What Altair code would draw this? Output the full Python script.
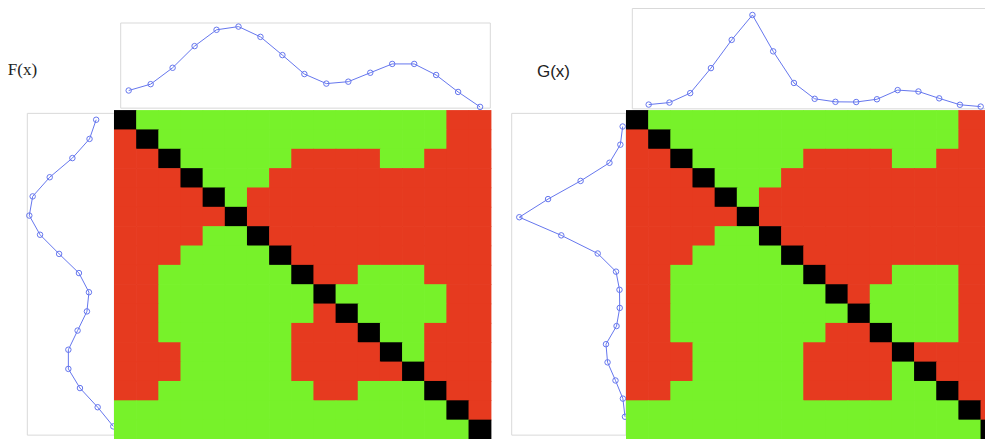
import altair as alt
import pandas as pd

# ---------------- data ----------------
idx = list(range(17))

F_values = [0.204, 0.283, 0.487, 0.757, 0.960, 1.000, 0.872, 0.645, 0.409,
            0.290, 0.314, 0.425, 0.535, 0.535, 0.397, 0.186, 0.000]

G_values = [0.022, 0.044, 0.147, 0.420, 0.728, 1.000, 0.603, 0.258, 0.085,
            0.052, 0.050, 0.080, 0.180, 0.165, 0.090, 0.020, 0.000]

# B = diagonal (black), G = green, R = red
F_matrix = [
    "BGGGGGGGGGGGGGGRR",
    "RBGGGGGGGGGGGGGRR",
    "RRBGGGGGRRRRGGRRR",
    "RRRBGGGRRRRRRRRRR",
    "RRRRBGRRRRRRRRRRR",
    "RRRRRBRRRRRRRRRRR",
    "RRRRGGBRRRRRRRRRR",
    "RRRGGGGBRRRRRRRRR",
    "RRGGGGGGBRRGGGRRR",
    "RRGGGGGGGBGGGGGRR",
    "RRGGGGGGGRBGGGGRR",
    "RRGGGGGGRRRBGGRRR",
    "RRRGGGGGRRRRBGRRR",
    "RRRGGGGGRRRRRBRRR",
    "RRGGGGGGGRRGGGBRR",
    "GGGGGGGGGGGGGGGBR",
    "GGGGGGGGGGGGGGGGB",
]

G_matrix = [
    "BGGGGGGGGGGGGGGRR",
    "RBGGGGGGGGGGGGGRR",
    "RRBGGGGGRRRRGGRRR",
    "RRRBGGGRRRRRRRRRR",
    "RRRRBGRRRRRRRRRRR",
    "RRRRRBRRRRRRRRRRR",
    "RRRRGGBRRRRRRRRRR",
    "RRRGGGGBRRRRRRRRR",
    "RRGGGGGGBRRRGGGRR",
    "RRGGGGGGGBRGGGGRR",
    "RRGGGGGGGGBGGGGRR",
    "RRGGGGGGGRRBGGGRR",
    "RRRGGGGGRRRRBRRRR",
    "RRRGGGGGRRRRGBRRR",
    "RRGGGGGGRRRRGGBRR",
    "GGGGGGGGGGGGGGGBR",
    "GGGGGGGGGGGGGGGGB",
]

labels = ["F(x)", "G(x)"]
cell_classes = ["B", "G", "R"]
cell_colors = ["#000000", "#77F22A", "#E63A1F"]
LINE = "#6677EE"
BOX = "#D9D9D9"

# page-layout helpers (positions only)
W, H = 977, 431
KY = (H - 0.5) / 445.0


def px(v):
    return v - 8.0


def py(v):
    return 0.5 + (v - 2.3) * KY


def qscale(domain, rng):
    return alt.Scale(domain=domain, range=rng, nice=False, zero=False)


def heat(matrix, xrange, yrange):
    rows = []
    for r, s in enumerate(matrix):
        for c, ch in enumerate(s):
            rows.append({"row": r, "row2": r + 1, "col": c, "col2": c + 1, "cls": ch})
    df = pd.DataFrame(rows)
    cs = alt.Scale(domain=cell_classes, range=cell_colors)
    return alt.Chart(df).mark_rect(x2Offset=0.7, y2Offset=0.7).encode(
        x=alt.X("col:Q", scale=qscale([0, 17], xrange), axis=None),
        x2="col2:Q",
        y=alt.Y("row:Q", scale=qscale([0, 17], yrange), axis=None),
        y2="row2:Q",
        color=alt.Color("cls:N", scale=cs, legend=None),
    )


def marginal(values, idom, irange, vdom, vrange, vertical):
    df = pd.DataFrame({"i": idx, "v": values})
    iscale = qscale(idom, irange)
    vscale = qscale(vdom, vrange)
    one = alt.Data(values=[{}])
    pt = alt.OverlayMarkDef(filled=False, color=LINE, size=30, strokeWidth=1)
    if not vertical:
        box = alt.Chart(one).mark_rect(filled=False, stroke=BOX, strokeWidth=1).encode(
            x=alt.datum(idom[0], scale=iscale, axis=None), x2=alt.datum(idom[1]),
            y=alt.datum(vdom[0], scale=vscale, axis=None), y2=alt.datum(vdom[1]))
        line = alt.Chart(df).mark_line(color=LINE, strokeWidth=1, point=pt).encode(
            x=alt.X("i:Q", scale=iscale, axis=None),
            y=alt.Y("v:Q", scale=vscale, axis=None),
        )
    else:
        box = alt.Chart(one).mark_rect(filled=False, stroke=BOX, strokeWidth=1).encode(
            x=alt.datum(vdom[0], scale=vscale, axis=None), x2=alt.datum(vdom[1]),
            y=alt.datum(idom[0], scale=iscale, axis=None), y2=alt.datum(idom[1]))
        line = alt.Chart(df).mark_line(color=LINE, strokeWidth=1, point=pt).encode(
            x=alt.X("v:Q", scale=vscale, axis=None),
            y=alt.Y("i:Q", scale=iscale, axis=None),
            order="i:Q",
        )
    return alt.layer(box, line)


# ---- F panel ----
F_top = marginal(F_values, [-0.364, 16.466], [px(120.7), px(490.3)],
                 [-0.0157, 1.0446], [py(105.3), py(17.3)], vertical=False)
F_left = marginal(F_values, [-0.333, 16.456], [py(110.7), py(443.3)],
                  [-0.0119, 1.0238], [px(114.3), px(27.3)], vertical=True)
F_heat = heat(F_matrix, [px(114.0), px(490.7)], [py(107.3), py(447.3)])

# ---- G panel ----
G_top = marginal(G_values, [-0.79, 17.5], [px(632.3), px(1011.8)],
                 [-0.0243, 1.0707], [py(106.0), py(2.3)], vertical=False)
G_left = marginal(G_values, [-0.725, 17.013], [py(110.7), py(443.3)],
                  [-0.00946, 1.0719], [px(626.0), px(511.7)], vertical=True)
G_heat = heat(G_matrix, [px(626.0), px(1002.7)], [py(107.3), py(447.3)])

F_label = alt.Chart(alt.Data(values=[{"t": labels[0]}])).mark_text(
    font="Liberation Serif", fontSize=17, color="#222222", align="center", baseline="middle"
).encode(text="t:N", x=alt.value(px(22.5)), y=alt.value(py(66)))

G_label = alt.Chart(alt.Data(values=[{"t": labels[1]}])).mark_text(
    font="Liberation Sans", fontSize=17, color="#222222", align="center", baseline="middle"
).encode(text="t:N", x=alt.value(px(553.5)), y=alt.value(py(68)))

chart = alt.layer(
    F_top, F_left, F_heat, G_top, G_left, G_heat, F_label, G_label
).resolve_scale(
    x="independent", y="independent"
).properties(
    width=W, height=H, padding=0,
    autosize=alt.AutoSizeParams(type="none"),
).configure_view(strokeWidth=0)

chart.save("out.html", embed_options={"renderer": "svg", "actions": False})
